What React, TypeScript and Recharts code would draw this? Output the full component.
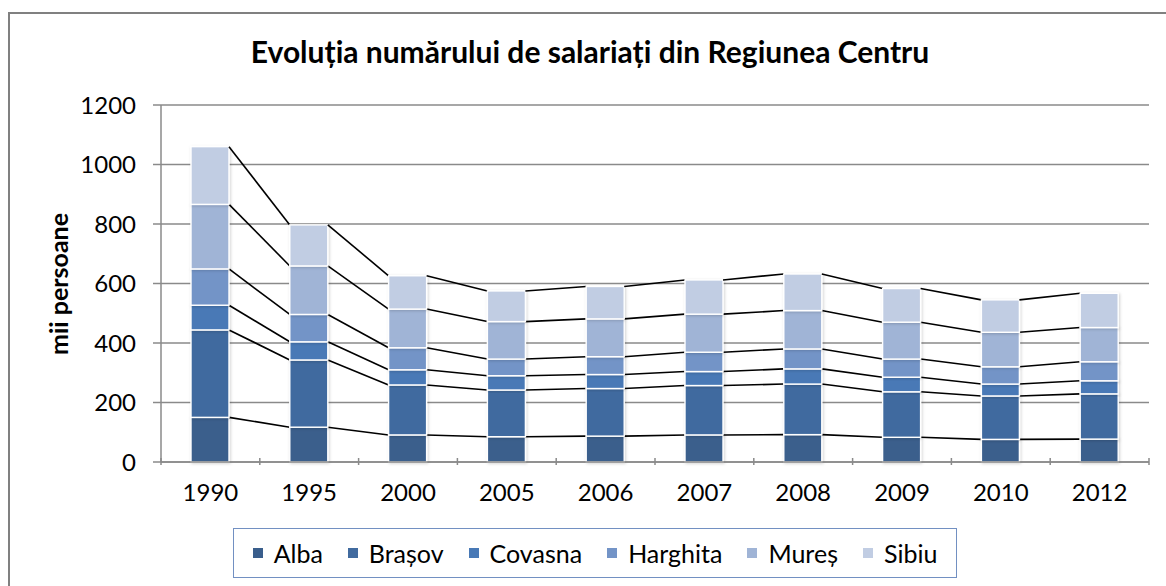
import React from 'react';
import { BarChart, Bar, XAxis, YAxis, CartesianGrid } from 'recharts';

const YEARS = ['1990', '1995', '2000', '2005', '2006', '2007', '2008', '2009', '2010', '2012'];
const ALBA = [150, 117, 91, 85, 87, 91, 92, 83, 76, 77];
const BRASOV = [294, 226, 168, 157, 160, 166, 170, 153, 146, 152];
const COVASNA = [83, 61, 51, 48, 47, 47, 51, 49, 40, 44];
const HARGHITA = [122, 92, 74, 56, 60, 65, 67, 61, 58, 64];
const MURES = [217, 163, 130, 126, 127, 128, 129, 124, 116, 115];
const SIBIU = [194, 138, 112, 103, 109, 115, 123, 113, 109, 115];
const Y_TICKS = [0, 200, 400, 600, 800, 1000, 1200];

const SERIES = [
  { key: 'alba', name: 'Alba', values: ALBA, color: '#3A5E8C' },
  { key: 'brasov', name: 'Brașov', values: BRASOV, color: '#416B9F' },
  { key: 'covasna', name: 'Covasna', values: COVASNA, color: '#4879B6' },
  { key: 'harghita', name: 'Harghita', values: HARGHITA, color: '#7394C7' },
  { key: 'mures', name: 'Mureș', values: MURES, color: '#A0B4D6' },
  { key: 'sibiu', name: 'Sibiu', values: SIBIU, color: '#C1CDE3' },
];

const data = YEARS.map((year, i) => {
  const row: Record<string, string | number> = { year };
  SERIES.forEach((s) => {
    row[s.key] = s.values[i];
  });
  return row;
});

const W = 1166;
const H = 586;
const MARGIN = { top: 105, right: 17, bottom: 84, left: 81 };
const Y_W = 80;
const X_H = 40;
const PLOT_W = W - MARGIN.left - Y_W - MARGIN.right;
const STEP = PLOT_W / YEARS.length;
const FONT = 'Lato, "Open Sans", sans-serif';
const GRID = '#8A8A8A';

// stacked total up to and including series k at category i
const cum = (i: number, k: number) => {
  let t = 0;
  for (let j = 0; j <= k; j++) t += SERIES[j].values[i];
  return t;
};

function makeShape(k: number) {
  return (p: any) => {
    const { x, y, width, height, index, fill } = p;
    const v = SERIES[k].values[index];
    const ppu = height / v;
    const zero = y + height + (k > 0 ? cum(index, k - 1) : 0) * ppu;
    let line = null;
    if (index < YEARS.length - 1) {
      const nextTop = zero - cum(index + 1, k) * ppu;
      line = <line x1={x + width} y1={y} x2={x + STEP} y2={nextTop} stroke="#000" strokeWidth={1.6} />;
    }
    return (
      <g>
        <rect x={x} y={y} width={width} height={height} fill={fill} stroke="#fff" strokeWidth={1.4} filter="url(#barShadow)" />
        {line}
      </g>
    );
  };
}

const XTick = (p: any) => {
  const { x, y, payload, index } = p;
  const axisY = y - 12;
  return (
    <g>
      <line x1={x - STEP / 2} y1={axisY} x2={x - STEP / 2} y2={axisY + 7} stroke={GRID} strokeWidth={1.5} />
      {index === YEARS.length - 1 && (
        <line x1={x + STEP / 2} y1={axisY} x2={x + STEP / 2} y2={axisY + 7} stroke={GRID} strokeWidth={1.5} />
      )}
      <text x={x} y={axisY + 43} textAnchor="middle" fontSize={24} fontFamily={FONT} fill="#000">
        {payload.value}
      </text>
    </g>
  );
};

export default function App() {
  return (
    <div style={{ position: 'absolute', left: 0, top: 0, width: W, height: H, overflow: 'hidden', background: '#fff' }}>
      <div
        style={{
          position: 'absolute',
          left: 8,
          top: 12,
          width: 1200,
          height: 640,
          border: '2px solid #808080',
          boxSizing: 'border-box',
        }}
      />
      <div
        style={{
          position: 'absolute',
          left: 0,
          top: 33,
          width: 1180,
          textAlign: 'center',
          fontFamily: FONT,
          fontWeight: 700,
          fontSize: 30,
          lineHeight: '36px',
          color: '#000',
        }}
      >
        Evoluția numărului de salariați din Regiunea Centru
      </div>
      <div
        style={{
          position: 'absolute',
          left: 58,
          top: 284,
          transform: 'translate(-50%, -50%) rotate(-90deg)',
          whiteSpace: 'nowrap',
          fontFamily: FONT,
          fontWeight: 700,
          fontSize: 25,
          color: '#000',
        }}
      >
        mii persoane
      </div>
      <div style={{ position: 'absolute', left: 0, top: 0 }}>
        <BarChart width={W} height={H} data={data} margin={MARGIN} barSize={38}>
          <defs>
            <filter id="barShadow" x="-20%" y="-20%" width="140%" height="140%">
              <feDropShadow dx="1" dy="1" stdDeviation="1.5" floodColor="#000" floodOpacity="0.18" />
            </filter>
          </defs>
          <CartesianGrid vertical={false} stroke={GRID} strokeWidth={1.4} />
          <XAxis
            dataKey="year"
            height={X_H}
            axisLine={{ stroke: GRID, strokeWidth: 1.5 }}
            tickLine={false}
            tick={<XTick />}
            interval={0}
          />
          <YAxis
            width={Y_W}
            domain={[0, 1200]}
            ticks={Y_TICKS}
            interval={0}
            axisLine={{ stroke: GRID, strokeWidth: 1.5 }}
            tickLine={{ stroke: GRID, strokeWidth: 1.5 }}
            tickSize={8}
            tickMargin={17}
            tick={{ fontSize: 24, fontFamily: FONT, fill: '#000' }}
          />
          {SERIES.map((s, k) => (
            <Bar
              key={s.key}
              dataKey={s.key}
              name={s.name}
              stackId="a"
              fill={s.color}
              shape={makeShape(k)}
              isAnimationActive={false}
            />
          ))}
        </BarChart>
      </div>
      <div
        style={{
          position: 'absolute',
          left: 233,
          top: 528,
          width: 724,
          height: 50,
          border: '1.5px solid #7290C2',
          boxSizing: 'border-box',
          display: 'flex',
          alignItems: 'center',
          justifyContent: 'center',
          gap: 25,
          fontFamily: FONT,
          fontSize: 25,
          color: '#000',
        }}
      >
        {SERIES.map((s) => (
          <div key={s.key} style={{ display: 'flex', alignItems: 'center', gap: 11 }}>
            <span style={{ width: 10, height: 10, background: s.color, display: 'inline-block' }} />
            <span>{s.name}</span>
          </div>
        ))}
      </div>
    </div>
  );
}
